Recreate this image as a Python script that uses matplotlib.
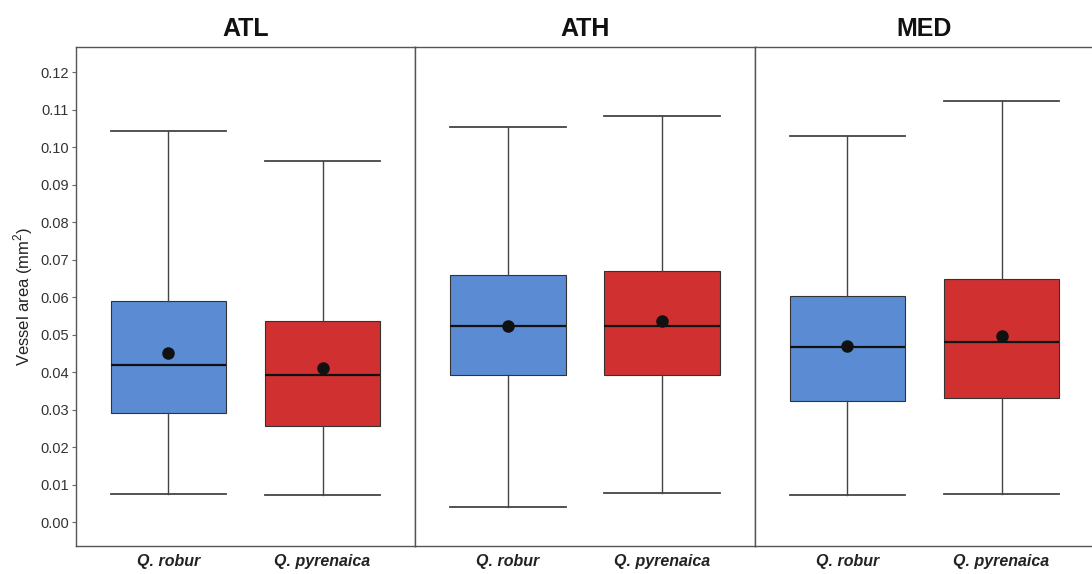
import matplotlib
matplotlib.use("Agg")
import matplotlib.pyplot as plt

plt.rcParams["font.family"] = ["Liberation Sans", "DejaVu Sans"]
plt.rcParams["mathtext.fontset"] = "custom"
plt.rcParams["mathtext.rm"] = "Liberation Sans"

regions = ["ATL", "ATH", "MED"]
species = ["Q. robur", "Q. pyrenaica"]
box_colors = ["#5b8bd3", "#d03030"]

# per region: [robur, pyrenaica]
whislo = {"ATL": [0.0074, 0.0072], "ATH": [0.0040, 0.0077], "MED": [0.0072, 0.0074]}
q1     = {"ATL": [0.0290, 0.0255], "ATH": [0.0391, 0.0391], "MED": [0.0322, 0.0332]}
med    = {"ATL": [0.0418, 0.0391], "ATH": [0.0524, 0.0524], "MED": [0.0468, 0.0481]}
q3     = {"ATL": [0.0590, 0.0537], "ATH": [0.0660, 0.0670], "MED": [0.0604, 0.0649]}
whishi = {"ATL": [0.1043, 0.0963], "ATH": [0.1053, 0.1082], "MED": [0.1029, 0.1122]}
means  = {"ATL": [0.0452, 0.0412], "ATH": [0.0524, 0.0537], "MED": [0.0470, 0.0497]}

yticks = [0.00, 0.01, 0.02, 0.03, 0.04, 0.05, 0.06, 0.07, 0.08, 0.09, 0.10, 0.11, 0.12]

fig = plt.figure(figsize=(10.92, 5.74), dpi=100)
fig.patch.set_facecolor("white")

W, H = 1092, 574
edges = [76, 415, 755, 1094]
top_px, bot_px = 47, 546
frame_col = "#555555"

axes = []
for i, reg in enumerate(regions):
    l = edges[i] / W
    w = (edges[i + 1] - edges[i]) / W
    ax = fig.add_axes([l, 1 - bot_px / H, w, (bot_px - top_px) / H])
    axes.append(ax)
    stats = []
    for j in range(2):
        stats.append(dict(whislo=whislo[reg][j], q1=q1[reg][j], med=med[reg][j],
                          q3=q3[reg][j], whishi=whishi[reg][j], fliers=[],
                          label=species[j]))
    bp = ax.bxp(stats, positions=[1, 2], widths=0.75, patch_artist=True,
                showfliers=False,
                boxprops=dict(edgecolor="#333333", linewidth=0.8),
                medianprops=dict(color="#111111", linewidth=1.6),
                whiskerprops=dict(color="#444444", linewidth=1.0),
                capprops=dict(color="#444444", linewidth=1.3),
                capwidths=0.75)
    for patch, c in zip(bp["boxes"], box_colors):
        patch.set_facecolor(c)
    ax.plot([1, 2], means[reg], "o", color="#111111", markersize=8, zorder=5)
    ax.set_xlim(0.4, 2.6)
    ax.set_ylim(-0.0064, 0.1267)
    ax.set_xticks([1, 2])
    ax.set_xticklabels(species, fontsize=11.5, fontweight="bold", fontstyle="italic",
                       color="#222222")
    ax.tick_params(axis="x", length=0, pad=6)
    for s in ax.spines.values():
        s.set_color(frame_col)
        s.set_linewidth(1.0)
    if i == 2:
        ax.spines["right"].set_visible(False)
    ax.set_title(reg, fontsize=18, fontweight="bold", pad=8, color="#111111")
    if i == 0:
        ax.set_yticks(yticks)
        ax.set_yticklabels([f"{v:.2f}" for v in yticks], fontsize=10.5, color="#333333")
        ax.tick_params(axis="y", length=3, color="#666666", pad=2)
        ax.set_ylabel("Vessel area (mm$^2$)", fontsize=12, color="#222222", labelpad=4)
    else:
        ax.set_yticks([])

fig.savefig("out.png", dpi=100, facecolor="white")
